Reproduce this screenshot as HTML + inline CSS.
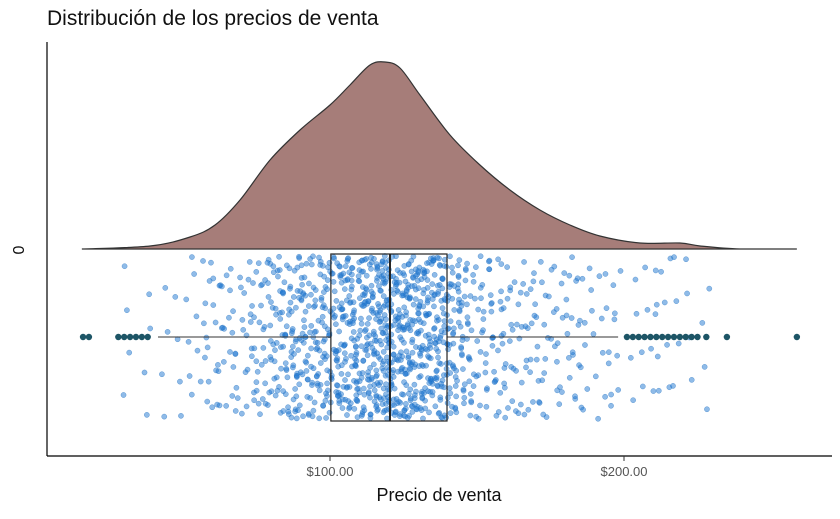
<!DOCTYPE html>
<html><head><meta charset="utf-8">
<style>
body{margin:0;background:#fff;font-family:"Liberation Sans","DejaVu Sans",sans-serif;}
svg{display:block}
</style></head>
<body>
<svg id="chart" width="840" height="519" viewBox="0 0 840 519">
<text x="47" y="25" font-size="21" fill="#111">Distribución de los precios de venta</text>
<g id="density"></g>
<g id="points"></g>
<g id="box"></g>
<line x1="47" y1="42" x2="47" y2="456" stroke="#000" stroke-width="1.2"/>
<line x1="47" y1="456" x2="832" y2="456" stroke="#000" stroke-width="1.2"/>
<text transform="translate(24,250) rotate(-90)" text-anchor="middle" font-size="16" fill="#111">0</text>
<g id="xticks"></g>
<text x="439" y="501" text-anchor="middle" font-size="18" fill="#111">Precio de venta</text>
</svg>
<script>
const tickValues=[100,200];
const tickLabels=["$100.00","$200.00"];
const densityPrices=[15.6,38.8,52.4,60.9,69.4,79.6,89.8,100,106.8,113.6,118.7,123.8,130.6,140.8,151,161.2,171.4,181.6,191.8,205.4,219,225.9,239.5,258.8];
const densityValues=[0,3,12,24,49,89,119,144,164,184,187,181,154,114,84,59,39,24,13,6,6,3,0,0];
const boxStats=[41.5,100.3,120.4,139.8,198];
const outliers=[16,18,28,30,32,34,36,38,201,203,205,207,209,211,213,215,217,219,221,223,225,228,235,258.8];
const prices=[120,98,135,110,142,87,125,104,118,131,76,150,113,96,128,139,102,165,121,90,108,147,117,83,133,126,99,158,112,71,141,119,93,129,106,172,115,137,101,124,88,145,111,132,95,153,122,80,127,109,140,116,61,134,103,160,123,92,148,114,130,85,119,107,176,136,97,143,121,78,126,105,155,118,89,138,112,66,131,100,167,124,94,146,117,82,129,110,152,120,58,135,104,181,127,91,144,115,74,122,108,162,133,86,140,119,99,128,113,170,125,69,137,102,149,116,84,131,111,188,123,95,142,106,79,134,118,157,101,90,127,121,54,139,109,164,114,87,145,126,97,132,105,178,120,73,138,112,151,124,92,129,117,83,136,103,168,119,64,143,110,155,128,96,133,107,193,122,81,140,115,88,130,99,159,125,76,137,113,148,118,91,134,106,174,121,85,141,111,67,127,102,161,131,94,146,116,80,123,109,184,135,98,139,114,71,126,104,154,119,89,132,112,166,128,77,144,108,150,117,93,136,100,198,124,86,130,115,62,138,107,171,122,95,147,110,82,129,119,156,103,90,134,113,207,126,74,141,105,163,120,97,137,116,48,131,101,180,125,88,143,111,152,118,84,135,108,215,123,79,139,114,169,127,92,133,104,44,121,99,158,130,87,145,117,186,112,75,138,106,222,124,96,132,115,195,120,83,142,102,228,128,91,136,109,57,119,52,203,173,182,190,212,38,31,67,210,63,177,185,59,196,218];
const X=p=>330+(p-100)*2.94;
const NS="http://www.w3.org/2000/svg";
const mk=(t,a,parent)=>{const e=document.createElementNS(NS,t);for(const k in a)e.setAttribute(k,a[k]);parent.appendChild(e);return e;};
// density (Catmull-Rom smoothing)
const base=249;
const pts=densityPrices.map((p,i)=>[X(p),base-densityValues[i]]);
let d=`M${pts[0][0]},${base} L${pts[0][0]},${pts[0][1]}`;
for(let i=0;i<pts.length-1;i++){
  const p0=pts[Math.max(i-1,0)],p1=pts[i],p2=pts[i+1],p3=pts[Math.min(i+2,pts.length-1)];
  const c1x=p1[0]+(p2[0]-p0[0])/6,c1y=Math.min(base,p1[1]+(p2[1]-p0[1])/6);
  const c2x=p2[0]-(p3[0]-p1[0])/6,c2y=Math.min(base,p2[1]-(p3[1]-p1[1])/6);
  d+=` C${c1x},${c1y} ${c2x},${c2y} ${p2[0]},${p2[1]}`;
}
d+=` L${pts[pts.length-1][0]},${base} Z`;
const dg=document.getElementById('density');
const dp=mk('path',{d:d,fill:'#a67d79',stroke:'#333','stroke-width':1.2},dg);


// points (each price drawn with several jitter copies)
const pg=document.getElementById('points');
const copies=[0,0.27,0.53,0.79];
prices.forEach((p,i)=>{
  copies.forEach((off,k)=>{
    const j=((i*0.6180339+off)%1);
    const dx=(((i*0.37+k*0.29)%1)-0.5)*8;
    const c=mk('circle',{cx:X(p)+dx,cy:256+j*163,r:2.6,fill:'#1f78d1','fill-opacity':0.5,stroke:'#1f6fc0','stroke-opacity':0.6,'stroke-width':0.5},pg);
    
    
  });
});
// box
const bg=document.getElementById('box');
const cy=337,y0=254,y1=421;
const w1=mk('line',{x1:X(boxStats[0]),x2:X(boxStats[1]),y1:cy,y2:cy,stroke:'#333','stroke-width':1},bg);


const w2=mk('line',{x1:X(boxStats[3]),x2:X(boxStats[4]),y1:cy,y2:cy,stroke:'#333','stroke-width':1},bg);


const rb=mk('rect',{x:X(boxStats[1]),y:y0,width:X(boxStats[3])-X(boxStats[1]),height:y1-y0,fill:'none',stroke:'#222','stroke-width':1.2},bg);


const md=mk('line',{x1:X(boxStats[2]),x2:X(boxStats[2]),y1:y0,y2:y1,stroke:'#222','stroke-width':2},bg);


outliers.forEach(p=>{
  const o=mk('circle',{cx:X(p),cy:cy,r:3.2,fill:'#1d5566'},bg);
  
  
});
// ticks
const tg=document.getElementById('xticks');
tickValues.forEach((v,i)=>{
  const l=mk('line',{x1:X(v),x2:X(v),y1:456,y2:461,stroke:'#333'},tg);
  
  
  const t=mk('text',{x:X(v),y:476,'text-anchor':'middle','font-size':13,fill:'#555'},tg);
  t.textContent=tickLabels[i];
  
  
});
</script>
</body></html>
